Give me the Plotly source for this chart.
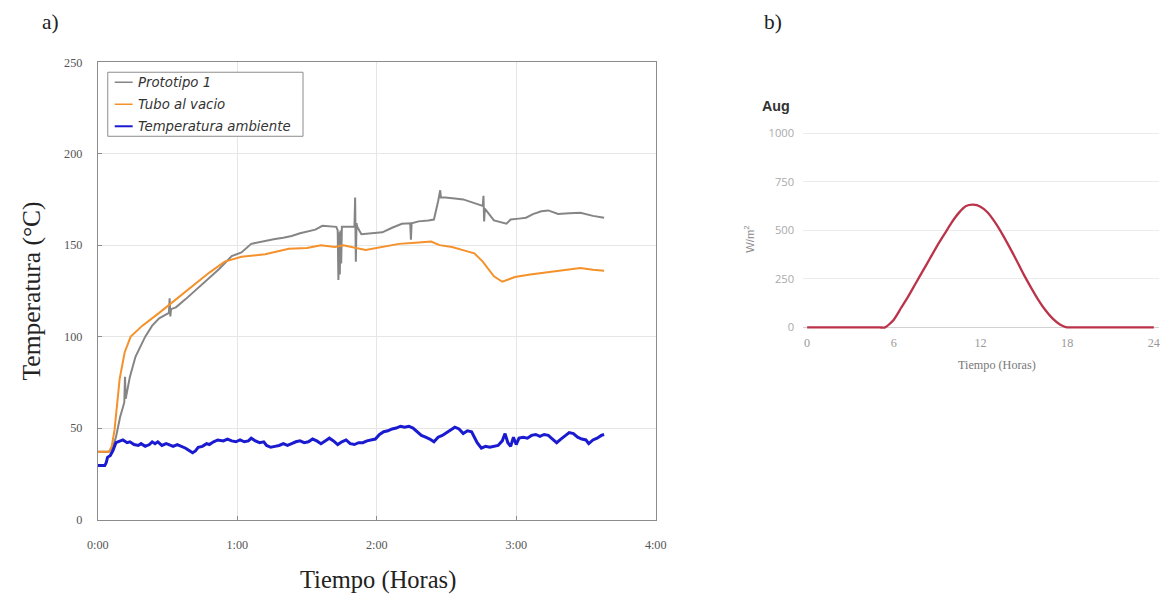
import plotly.graph_objects as go

# Layout positions below are given in screen pixels of the final 1164x605 view.
# The page body keeps its default 8px margin and the page is shown slightly
# scaled down, so screen pixels are converted to figure pixels with those numbers.
BODY_MARGIN = 8
VIEW_SCALE_X = 0.985
VIEW_SCALE_Y = 0.976
W, H = 1178, 600

# ---- Panel a): temperature log, time in hours since start, values in °C ----
proto_t = [0, 0.08, 0.11, 0.13, 0.16, 0.19, 0.195, 0.2, 0.23, 0.27, 0.34, 0.39, 0.44, 0.51,
           0.515, 0.52, 0.525, 0.56, 0.63, 0.75, 0.87, 0.96, 1.03, 1.1, 1.18, 1.27, 1.33, 1.39,
           1.45, 1.5, 1.56, 1.61, 1.66,
           1.71, 1.72, 1.725, 1.73, 1.735, 1.74, 1.745, 1.75, 1.8, 1.84, 1.845, 1.85, 1.855,
           1.86, 1.89, 1.96, 2.04, 2.11, 2.18, 2.24, 2.245, 2.25, 2.3, 2.37, 2.41, 2.44, 2.455,
           2.46, 2.465, 2.49, 2.56, 2.62, 2.7, 2.76, 2.765, 2.77, 2.775, 2.84, 2.93, 2.96, 3.02,
           3.07, 3.12, 3.18, 3.23, 3.3, 3.38, 3.46, 3.55, 3.63]
proto_v = [37, 37, 40, 45, 56, 64, 78, 66, 78, 89, 100, 106, 110, 113,
           121, 111, 115, 116, 120.5, 129, 137, 144, 146, 150.7, 152, 153.4, 154, 155,
           156.5, 157.5, 158.5, 160.6, 160.3,
           160, 158, 131, 157, 134, 158, 140, 160, 160, 160, 176, 141, 162,
           160, 156, 156.5, 157, 159.5, 161.7, 162, 153, 162, 163, 163.5, 164, 174, 180,
           176, 176, 176, 175.5, 175, 173, 171.5, 177, 163, 170, 163.5, 161.7, 164, 164.5,
           165, 167, 168.5, 169, 167, 167.5, 167.7, 166, 165]

tubo_t = [0, 0.08, 0.1, 0.12, 0.157, 0.193, 0.236, 0.32, 0.44, 0.56, 0.68, 0.8, 0.91, 1.03,
          1.2, 1.37, 1.5, 1.6, 1.7, 1.76, 1.92, 2.16, 2.3, 2.39, 2.45, 2.54, 2.63, 2.7, 2.76,
          2.84, 2.9, 2.94, 2.99, 3.1, 3.3, 3.46, 3.55, 3.63]
tubo_v = [37, 37, 40, 49, 77, 91.5, 100, 106, 113, 120.5, 128, 135, 141, 143.6,
          145, 148, 148.5, 150, 149, 150, 147.4, 150.7, 151.5, 152, 150, 149, 147, 145.5, 141,
          133, 130, 131, 132.6, 134, 136, 137.5, 136.5, 136]

amb_t = [0, 0.05, 0.06, 0.07, 0.09, 0.11, 0.13, 0.16, 0.18, 0.21, 0.23, 0.26, 0.29, 0.31,
         0.34, 0.37, 0.39, 0.41, 0.43, 0.46, 0.49, 0.51, 0.54, 0.57, 0.6, 0.63, 0.66, 0.68,
         0.7, 0.72, 0.75, 0.78, 0.8, 0.83, 0.86, 0.9, 0.93, 0.96, 0.99, 1.02, 1.05, 1.08,
         1.1, 1.13, 1.16, 1.19, 1.21, 1.24, 1.27, 1.3, 1.33, 1.36, 1.39, 1.42, 1.45, 1.48,
         1.51, 1.54, 1.57, 1.6, 1.63, 1.66, 1.69, 1.72, 1.75, 1.78, 1.81, 1.84, 1.87, 1.9,
         1.93, 1.96, 1.99, 2.02, 2.05, 2.08, 2.11, 2.14, 2.17, 2.2, 2.23, 2.26, 2.29, 2.32,
         2.35, 2.38, 2.41, 2.44, 2.47, 2.5, 2.53, 2.56, 2.59, 2.62, 2.65, 2.68, 2.7, 2.72,
         2.75, 2.78, 2.81, 2.84, 2.87, 2.9, 2.92, 2.94, 2.96, 2.98, 3.0, 3.02, 3.05, 3.08,
         3.11, 3.14, 3.17, 3.2, 3.23, 3.26, 3.29, 3.32, 3.35, 3.38, 3.41, 3.44, 3.47, 3.5,
         3.52, 3.55, 3.58, 3.61, 3.63]
amb_v = [29.5, 29.5, 31, 34, 35, 38, 42, 43, 43.5, 42, 42.5, 41, 40.5, 41.5,
         40, 41, 42.5, 41.5, 42.5, 40.5, 41.5, 41, 40, 41, 40, 39, 37.5, 36.5,
         37.5, 39.5, 40, 41.5, 41, 42.5, 43.5, 43, 44, 43, 42.5, 43.5, 42.5, 43,
         44.5, 43, 42, 42.5, 40.5, 39.5, 40, 40.5, 41.5, 40.5, 41.5, 42.5, 43, 42,
         42.5, 44, 43, 41.5, 43, 44.5, 43, 41, 42.5, 43.5, 41.5, 41, 42, 42,
         43, 43.5, 44, 46.5, 48, 48.5, 49.5, 50, 51, 50.5, 51, 50, 48, 46,
         45, 44, 42.5, 45, 46, 47.5, 49, 50.5, 49.5, 47, 48.5, 48, 45, 42,
         39, 40, 39.5, 40, 40.5, 43, 47, 42, 40, 45, 41, 44.5, 45, 44.5,
         46, 46.5, 45.5, 46.5, 46, 44, 42, 44, 46, 47.5, 47, 45, 44, 43.5,
         41.5, 43.5, 44.5, 46, 46.5]

series_names = ["Prototipo 1", "Tubo al vacio", "Temperatura ambiente"]
series_colors = ["#858585", "#f4912a", "#1a1ad0"]
series_widths = [2, 2, 3]

time_ticks = [0, 1, 2, 3, 4]
time_labels = ["0:00", "1:00", "2:00", "3:00", "4:00"]
temp_ticks = [0, 50, 100, 150, 200, 250]

# ---- Panel b): daily solar irradiance profile for August (W/m²) ----
irr_h = [0, 2, 4, 5, 5.4, 6, 6.5, 7, 7.5, 8, 8.5, 9, 9.5, 10, 10.5, 11, 11.5, 12, 12.5,
         13, 13.5, 14, 14.5, 15, 15.5, 16, 16.5, 17, 17.5, 17.9, 18.2, 20, 22, 24]
irr_v = [0, 0, 0, 0, 0, 40, 100, 160, 225, 290, 355, 420, 480, 540, 590, 625, 632, 622, 592,
         542, 482, 415, 345, 272, 205, 142, 88, 45, 15, 2, 0, 0, 0, 0]
irr_xticks = [0, 6, 12, 18, 24]
irr_yticks = [0, 250, 500, 750, 1000]


def fx(x):
    """Screen x pixel -> figure pixel."""
    return x / VIEW_SCALE_X - BODY_MARGIN


def fy(y):
    """Screen y pixel -> figure pixel."""
    return y / VIEW_SCALE_Y - BODY_MARGIN


def px(x):
    """Screen x pixel -> paper fraction (clamped to the figure)."""
    return min(1.0, max(0.0, fx(x) / W))


def py(y):
    """Screen y pixel (from top) -> paper fraction (clamped to the figure)."""
    return min(1.0, max(0.0, 1 - fy(y) / H))


def fs(size):
    """Font size on screen -> font size in the figure."""
    return round(2 * size / (VIEW_SCALE_X + VIEW_SCALE_Y), 1)


SERIF = "Liberation Serif, Times New Roman, serif"
SANS = "Open Sans, Liberation Sans, sans-serif"

fig = go.Figure()

for t, v, name, color, width in zip([proto_t, tubo_t, amb_t], [proto_v, tubo_v, amb_v],
                                    series_names, series_colors, series_widths):
    fig.add_trace(go.Scatter(x=t, y=v, name=name, mode="lines",
                             line=dict(color=color, width=width),
                             xaxis="x", yaxis="y", showlegend=False))

fig.add_trace(go.Scatter(x=irr_h, y=irr_v, name="Aug", mode="lines",
                         line=dict(color="#bb3349", width=2.3, shape="spline", smoothing=0.6),
                         xaxis="x2", yaxis="y2", showlegend=False))

# Boxed legend for panel a)
leg_x0, leg_x1, leg_y0, leg_y1 = 105, 301, 73, 137
shapes = [dict(type="rect", xref="paper", yref="paper",
               x0=px(leg_x0), x1=px(leg_x1), y0=py(leg_y1), y1=py(leg_y0),
               line=dict(color="#8c8c8c", width=1), fillcolor="white", layer="above")]
annotations = []
for i, (name, color, width) in enumerate(zip(series_names, series_colors, series_widths)):
    row_y = 83 + i * 22
    shapes.append(dict(type="line", xref="paper", yref="paper",
                       x0=px(112), x1=px(130), y0=py(row_y), y1=py(row_y),
                       line=dict(color=color, width=1.5 if width < 3 else 2), layer="above"))
    annotations.append(dict(text="<i>" + name + "</i>", xref="paper", yref="paper",
                            x=px(133), y=py(row_y), xanchor="left", yanchor="middle",
                            showarrow=False,
                            font=dict(family="DejaVu Sans, sans-serif", size=fs(13),
                                      color="#333")))

annotations += [
    dict(text="a)", x=px(48), y=py(23), font=dict(family=SERIF, size=fs(21), color="#222")),
    dict(text="b)", x=px(773), y=py(23), font=dict(family=SERIF, size=fs(21), color="#222")),
    dict(text="Temperatura (°C)", x=px(28), y=py(292), textangle=-90,
         font=dict(family=SERIF, size=fs(25), color="#222")),
    dict(text="Tiempo (Horas)", x=px(376), y=py(580),
         font=dict(family=SERIF, size=fs(24), color="#222")),
    dict(text="<b>Aug</b>", x=px(760), y=py(107), xanchor="left",
         font=dict(family="Liberation Sans, Arial, sans-serif", size=fs(14), color="#333")),
    dict(text="W/m<sup>2</sup>", x=px(749), y=py(240), textangle=-90,
         font=dict(family="Liberation Sans, Arial, sans-serif", size=fs(11), color="#888")),
    dict(text="Tiempo (Horas)", x=px(998), y=py(366),
         font=dict(family=SERIF, size=fs(12), color="#777")),
]
for a in annotations[3:]:
    a.setdefault("xref", "paper")
    a.setdefault("yref", "paper")
    a.setdefault("showarrow", False)
    a.setdefault("xanchor", "center")
    a.setdefault("yanchor", "middle")

# Panel b): hour 0 at screen x=807, hour 24 at x=1155; grid runs from x=803 to x=1160
x2_left = 803
x2_right = min(1160, (W + BODY_MARGIN) * VIEW_SCALE_X)
x2_px_per = (1155 - 807) / 24.0
x2_lo = -(807 - x2_left) / x2_px_per
x2_hi = 24 + (x2_right - 1155) / x2_px_per

# Panel b) y range slightly padded so the zero-level line is not clipped
y2_lo, y2_hi = -10, 1010
y2_px_per = (328 - 134) / 1000.0

fig.update_layout(
    width=W, height=H,
    margin=dict(l=0, r=0, t=0, b=0),
    paper_bgcolor="white", plot_bgcolor="white",
    showlegend=False,
    shapes=shapes,
    annotations=annotations,
    xaxis=dict(domain=[px(95), px(655)], range=[0, 4],
               tickvals=time_ticks, ticktext=time_labels,
               showline=True, mirror=True, linecolor="#8c8c8c", linewidth=1,
               showgrid=True, gridcolor="#e6e6e6", gridwidth=1, zeroline=False,
               ticks="inside", ticklen=4, tickcolor="#8c8c8c",
               ticklabelstandoff=14,
               tickfont=dict(family=SERIF, size=fs(12), color="#555"), anchor="y"),
    yaxis=dict(domain=[py(520), py(63)], range=[0, 250],
               tickvals=temp_ticks,
               showline=True, mirror=True, linecolor="#8c8c8c", linewidth=1,
               showgrid=True, gridcolor="#e6e6e6", gridwidth=1, zeroline=False,
               ticks="inside", ticklen=4, tickcolor="#8c8c8c",
               ticklabelstandoff=12,
               tickfont=dict(family=SERIF, size=fs(12), color="#555"), anchor="x"),
    xaxis2=dict(domain=[px(x2_left), px(x2_right)], range=[x2_lo, x2_hi],
                tickvals=irr_xticks, showline=False, showgrid=False, zeroline=False,
                ticks="", ticklabelstandoff=4,
                tickfont=dict(family=SERIF, size=fs(12), color="#999"), anchor="y2"),
    yaxis2=dict(domain=[py(328 - y2_lo * y2_px_per), py(134 - (y2_hi - 1000) * y2_px_per)],
                range=[y2_lo, y2_hi], tickvals=irr_yticks,
                showline=False, showgrid=True, gridcolor="#ececec", gridwidth=1,
                zeroline=True, zerolinecolor="#d2d2d2", zerolinewidth=1,
                ticks="", ticklabelstandoff=8,
                tickfont=dict(family=SANS, size=fs(11), color="#aaa"), anchor="x2"),
)

fig.write_html("out.html")
